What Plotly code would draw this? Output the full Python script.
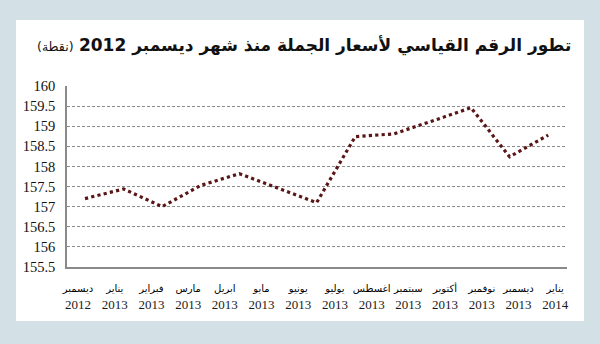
import plotly.graph_objects as go

# Data (index values, points) — 13 monthly observations
values = [157.2, 157.44, 157.0, 157.53, 157.82, 157.45, 157.1,
          158.74, 158.81, 159.13, 159.46, 158.24, 158.78]
months = ["ديسمبر", "يناير", "فبراير", "مارس", "ابريل", "مايو", "يونيو",
          "يوليو", "اغسطس", "سبتمبر", "أكتوبر", "نوفمبر", "ديسمبر", "يناير"]
years = ["2012", "2013", "2013", "2013", "2013", "2013", "2013",
         "2013", "2013", "2013", "2013", "2013", "2013", "2014"]
y_ticks = [155.5, 156, 156.5, 157, 157.5, 158, 158.5, 159, 159.5, 160]

title_main = "تطور الرقم القياسي لأسعار الجملة منذ شهر ديسمبر 2012"
title_unit = "(نقطة)"

x_pts = list(range(len(values)))
n_lab = len(months)
span = 12.36
tickvals = [-0.18 + j * span / (n_lab - 1) for j in range(n_lab)]
ticktext = [f"<span style='font-family:DejaVu Sans;font-size:10px;color:#000'>{m}</span><br>{y}"
            for m, y in zip(months, years)]

SERIF = "Liberation Serif"

fig = go.Figure()
fig.add_trace(go.Scatter(
    x=x_pts, y=values, mode="lines",
    line=dict(color="#5a1616", width=3.2, dash="dot"),
    hoverinfo="skip", showlegend=False,
))

L, R, T, B = 67, 33, 86, 77
W, H = 600, 344
pw, ph = W - L - R, H - T - B

def px(xp):
    return (xp - L) / pw

def py(yp):
    return (H - B - yp) / ph

fig.update_layout(
    width=W, height=H,
    margin=dict(l=L, r=R, t=T, b=B, pad=0),
    paper_bgcolor="#d3e0e5",
    plot_bgcolor="white",
    shapes=[
        dict(type="rect", xref="paper", yref="paper",
             x0=px(16), x1=px(584), y0=py(321), y1=py(20),
             fillcolor="white", line=dict(width=0), layer="below"),
    ],
    annotations=[
        dict(xref="paper", yref="paper", x=px(573), y=py(46),
             xanchor="right", yanchor="middle", showarrow=False,
             text=f"<b>{title_main}</b> <span style='font-size:12.5px'>{title_unit}</span>",
             font=dict(family="DejaVu Sans", size=17, color="#111")),
    ],
    xaxis=dict(
        range=[-0.466, 12.487],
        tickvals=tickvals, ticktext=ticktext, tickangle=0,
        tickfont=dict(family=SERIF, size=13, color="#1a1a1a"),
        showgrid=False, zeroline=False,
        showline=True, linecolor="#8a8a8a", linewidth=1.5,
        ticks="", ticklabelstandoff=8, fixedrange=True,
    ),
    yaxis=dict(
        range=[155.5, 160],
        tickvals=y_ticks, ticktext=[f"{v:g}" for v in y_ticks],
        tickfont=dict(family=SERIF, size=14.5, color="#111"),
        showgrid=True, gridcolor="#8c8c8c", gridwidth=1, griddash="3px,2px",
        zeroline=False,
        showline=True, linecolor="#8a8a8a", linewidth=1.5,
        ticks="", ticklabelstandoff=7, fixedrange=True,
    ),
)

fig.write_html("out.html")
